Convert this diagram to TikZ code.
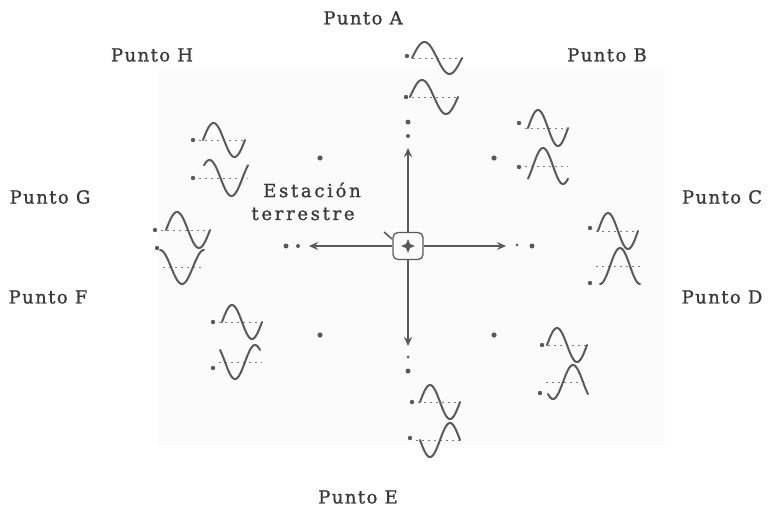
\documentclass[tikz,border=0pt]{standalone}
\usepackage{fontspec}
\setmainfont{DejaVu Serif}[LetterSpace=8,FakeBold=1.2]
\newfontfamily\widefont{DejaVu Serif}[LetterSpace=15,FakeBold=1.2]
\usetikzlibrary{arrows.meta}
\definecolor{ink}{HTML}{3A3A3A}
\definecolor{wavec}{HTML}{5A5A5A}
\tikzset{
  lbl/.style={text=ink,font=\fontsize{18}{20}\selectfont,inner sep=0pt},
  stlbl/.style={text=ink,font=\widefont\fontsize{18}{20}\selectfont,inner sep=0pt},
  wv/.style={draw=wavec,line width=2pt,line cap=round},
  bl/.style={draw=wavec!80,line width=0.9pt,dash pattern=on 2pt off 4pt},
  axis/.style={draw=wavec,line width=1.5pt},
  tip/.style={-{Stealth[length=9pt,width=8pt]}},
}
\newcommand\sinewave[5]{\draw[wv] plot[domain=0:360,samples=73,smooth] ({#1+\x/360*#3},{#2-#4*sin(\x+#5)});}
\newcommand\refmark[4]{\fill[wavec] (#1,#2) circle (2.2pt); \draw[bl] (#1+6,#4) -- (#3,#4);}
\begin{document}
\begin{tikzpicture}[x=1pt,y=-1pt]
\useasboundingbox (0,0) rectangle (775,514);
\fill[black!1.5] (158,68) rectangle (665,445);
% labels
\node[lbl] (pA) at (363,18) {Punto A};
\node[lbl] (pH) at (152,55) {Punto H};
\node[lbl] (pB) at (607,55) {Punto B};
\node[lbl] (pG) at (50,197) {Punto G};
\node[lbl] (pC) at (722,197) {Punto C};
\node[lbl] (pF) at (48,297) {Punto F};
\node[lbl] (pD) at (722,297) {Punto D};
\node[lbl] (pE) at (358,497) {Punto E};
\node[stlbl] (est) at (312,190) {Estación};
\node[stlbl] (ter) at (303,214) {terrestre};
% centre station
\node[draw=wavec,line width=1.3pt,rounded corners=5pt,minimum width=30pt,minimum height=27pt] (ctr) at (408,246) {};
\fill[wavec] (408,239) -- (410,244) -- (415,246) -- (410,248) -- (408,253) -- (406,248) -- (401,246) -- (406,244) -- cycle;
\draw[wavec,line width=1.6pt] (384,232) -- (392,239);
\coordinate (tN) at (408,148);
\coordinate (tS) at (408,346);
\coordinate (tW) at (309,246);
\coordinate (tE) at (506,246);
\draw[axis,tip] (ctr.north) -- (tN);
\draw[axis,tip] (ctr.south) -- (tS);
\draw[axis,tip] (ctr.west) -- (tW);
\draw[axis,tip] (ctr.east) -- (tE);
% dots at arrow ends
\fill[wavec] (408,122) circle (2.5pt) (408,136) circle (2pt);
\fill[wavec] (408,357) circle (1.5pt) (408,371) circle (2.5pt);
\fill[wavec] (286,246) circle (2.5pt) (298,246) circle (2pt);
\fill[wavec] (517,245) circle (1.5pt) (532,246) circle (2.5pt);
% corner dots
\fill[wavec] (320,158) circle (2.6pt) (494,158) circle (2.6pt)
             (320,335) circle (2.6pt) (494,335) circle (2.6pt);
% Punto A
\refmark{407}{56}{462}{58}\sinewave{412}{58}{50}{16}{0}
\refmark{406}{97}{458}{97}\sinewave{410}{97}{48}{17}{0}
% Punto B
\refmark{519}{123}{568}{128}\sinewave{528}{128}{40}{18}{0}
\refmark{519}{167}{568}{166}\sinewave{528}{166}{40}{18}{-45}
% Punto C
\refmark{590}{228}{638}{231}\sinewave{598}{231}{40}{18}{0}
\refmark{590}{283}{640}{266}\sinewave{600}{266}{40}{18}{-90}
% Punto D
\refmark{542}{345}{587}{345}\sinewave{547}{345}{40}{17}{0}
\refmark{540}{393}{588}{382}\sinewave{548}{382}{40}{17}{-135}
% Punto E
\refmark{412}{402}{460}{402}\sinewave{420}{402}{40}{17}{0}
\refmark{410}{438}{460}{440}\sinewave{420}{440}{40}{17}{-180}
% Punto F
\refmark{213}{322}{262}{322}\sinewave{222}{322}{40}{17}{0}
\refmark{213}{368}{262}{362}\sinewave{220}{362}{40}{17}{-225}
% Punto G
\refmark{155}{230}{210}{230}\sinewave{166}{230}{44}{18}{0}
\refmark{157}{248}{204}{267}\sinewave{160}{267}{44}{17}{-270}
% Punto H
\refmark{193}{140}{245}{140}\sinewave{203}{140}{42}{17}{0}
\refmark{193}{178}{248}{178}\sinewave{204}{178}{44}{18}{-315}
\end{tikzpicture}
\end{document}
